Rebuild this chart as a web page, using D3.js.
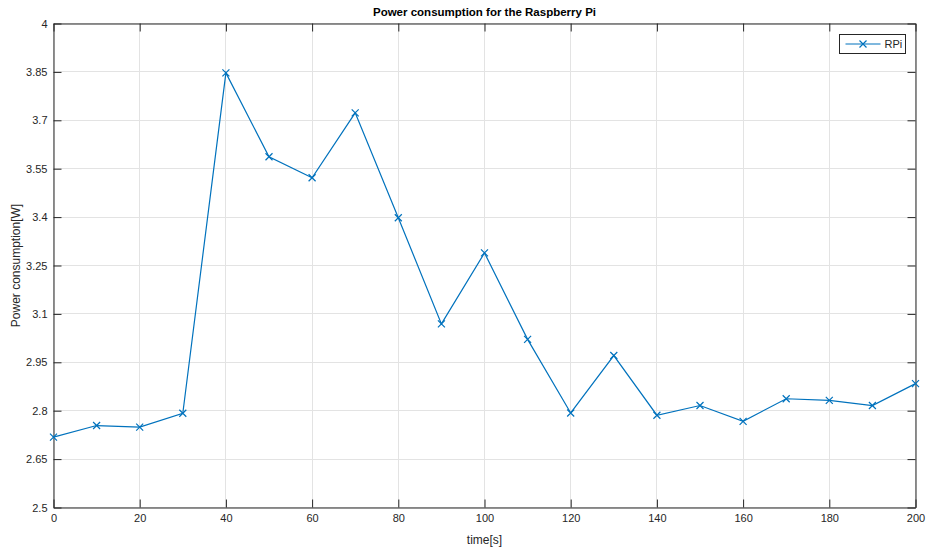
<!DOCTYPE html>
<html>
<head>
<meta charset="utf-8">
<script src="https://cdn.jsdelivr.net/npm/d3@7"></script>
<style>
  body { margin: 0; background: #fff; }
  text { font-family: "Liberation Sans", Arial, sans-serif; fill: #262626; }
</style>
</head>
<body>
<div id="chart"></div>
<script>
var times = [0, 10, 20, 30, 40, 50, 60, 70, 80, 90, 100, 110, 120, 130, 140, 150, 160, 170, 180, 190, 200];
var power = [2.718, 2.754, 2.749, 2.792, 3.847, 3.587, 3.522, 3.723, 3.398, 3.069, 3.289, 3.021, 2.793, 2.971, 2.786, 2.816, 2.767, 2.837, 2.832, 2.816, 2.884];
var xTicks = [0, 20, 40, 60, 80, 100, 120, 140, 160, 180, 200];
var yTicks = [2.5, 2.65, 2.8, 2.95, 3.1, 3.25, 3.4, 3.55, 3.7, 3.85, 4];

var margin = {top: 23.5, right: 11.5, bottom: 41.5, left: 53.5},
    width = 927 - margin.left - margin.right,
    height = 549 - margin.top - margin.bottom;

var lineColor = "#0072bd";
var axisColor = "#262626";

var svg = d3.select("#chart").append("svg")
    .attr("width", 927)
    .attr("height", 549);

var main = svg.append("g")
    .attr("transform", "translate(" + margin.left + "," + margin.top + ")");

var x = d3.scaleLinear().domain([0, 200]).range([0, width]);
var y = d3.scaleLinear().domain([2.5, 4]).range([height, 0]);

// grid
main.append("g").selectAll("line.gx")
    .data(xTicks)
    .enter().append("line")
    .attr("x1", function (d) { return Math.round(x(d)); })
    .attr("x2", function (d) { return Math.round(x(d)); })
    .attr("y1", 0).attr("y2", height)
    .style("stroke", "#e3e3e3").style("stroke-width", "1px");

main.append("g").selectAll("line.gy")
    .data(yTicks)
    .enter().append("line")
    .attr("y1", function (d) { return Math.round(y(d)); })
    .attr("y2", function (d) { return Math.round(y(d)); })
    .attr("x1", 0).attr("x2", width)
    .style("stroke", "#e3e3e3").style("stroke-width", "1px");

// axes, ticks pointing inward
var tickLen = 8;
var fmt = function (d) { return String(+d.toFixed(2)); };

var bottomAxis = main.append("g")
    .attr("transform", "translate(0," + height + ")")
    .call(d3.axisBottom(x).tickValues(xTicks).tickSizeInner(-tickLen).tickSizeOuter(0).tickPadding(7).tickFormat(fmt));
var leftAxis = main.append("g")
    .call(d3.axisLeft(y).tickValues(yTicks).tickSizeInner(-tickLen).tickSizeOuter(0).tickPadding(6).tickFormat(fmt));
var topAxis = main.append("g")
    .call(d3.axisTop(x).tickValues(xTicks).tickSizeInner(-tickLen).tickSizeOuter(0).tickFormat(""));
var rightAxis = main.append("g")
    .attr("transform", "translate(" + width + ",0)")
    .call(d3.axisRight(y).tickValues(yTicks).tickSizeInner(-tickLen).tickSizeOuter(0).tickFormat(""));

[bottomAxis, leftAxis, topAxis, rightAxis].forEach(function (a) {
    a.selectAll(".domain").style("stroke", axisColor);
    a.selectAll(".tick line").style("stroke", axisColor);
    a.selectAll("text").style("font-size", "11px").style("fill", axisColor)
        .style("font-family", "'Liberation Sans', Arial, sans-serif");
});

// data line
var line = d3.line()
    .x(function (d, i) { return x(times[i]); })
    .y(function (d) { return y(d); });

main.append("path")
    .datum(power)
    .attr("d", line)
    .style("fill", "none")
    .style("stroke", lineColor)
    .style("stroke-width", "1.2px");

var m = 3.5;
main.append("g").selectAll("path")
    .data(power)
    .enter().append("path")
    .attr("d", function (d, i) {
        var cx = x(times[i]), cy = y(d);
        return "M" + (cx - m) + "," + (cy - m) + "L" + (cx + m) + "," + (cy + m) +
            "M" + (cx - m) + "," + (cy + m) + "L" + (cx + m) + "," + (cy - m);
    })
    .style("stroke", lineColor)
    .style("stroke-width", "1.2px")
    .style("fill", "none");

// title and labels
svg.append("text")
    .attr("x", margin.left + width / 2)
    .attr("y", 16)
    .attr("text-anchor", "middle")
    .style("font-size", "11.5px")
    .style("font-weight", "bold")
    .style("fill", "#000")
    .text("Power consumption for the Raspberry Pi");

svg.append("text")
    .attr("x", margin.left + width / 2)
    .attr("y", 544)
    .attr("text-anchor", "middle")
    .style("font-size", "12px")
    .text("time[s]");

svg.append("text")
    .attr("transform", "translate(20," + (margin.top + height / 2) + ") rotate(-90)")
    .attr("text-anchor", "middle")
    .style("font-size", "12px")
    .text("Power consumption[W]");

// legend
var lg = svg.append("g").attr("transform", "translate(839.5,34.5)");
lg.append("rect")
    .attr("width", 66).attr("height", 19)
    .style("fill", "#fff")
    .style("stroke", axisColor)
    .style("stroke-width", "1px");
lg.append("line")
    .attr("x1", 6).attr("x2", 41).attr("y1", 9.5).attr("y2", 9.5)
    .style("stroke", lineColor).style("stroke-width", "1.2px");
lg.append("path")
    .attr("d", "M" + (23.5 - m) + "," + (9.5 - m) + "L" + (23.5 + m) + "," + (9.5 + m) +
        "M" + (23.5 - m) + "," + (9.5 + m) + "L" + (23.5 + m) + "," + (9.5 - m))
    .style("stroke", lineColor).style("stroke-width", "1.2px");
lg.append("text")
    .attr("x", 45).attr("y", 13.5)
    .style("font-size", "11px")
    .text("RPi");
</script>
</body>
</html>
